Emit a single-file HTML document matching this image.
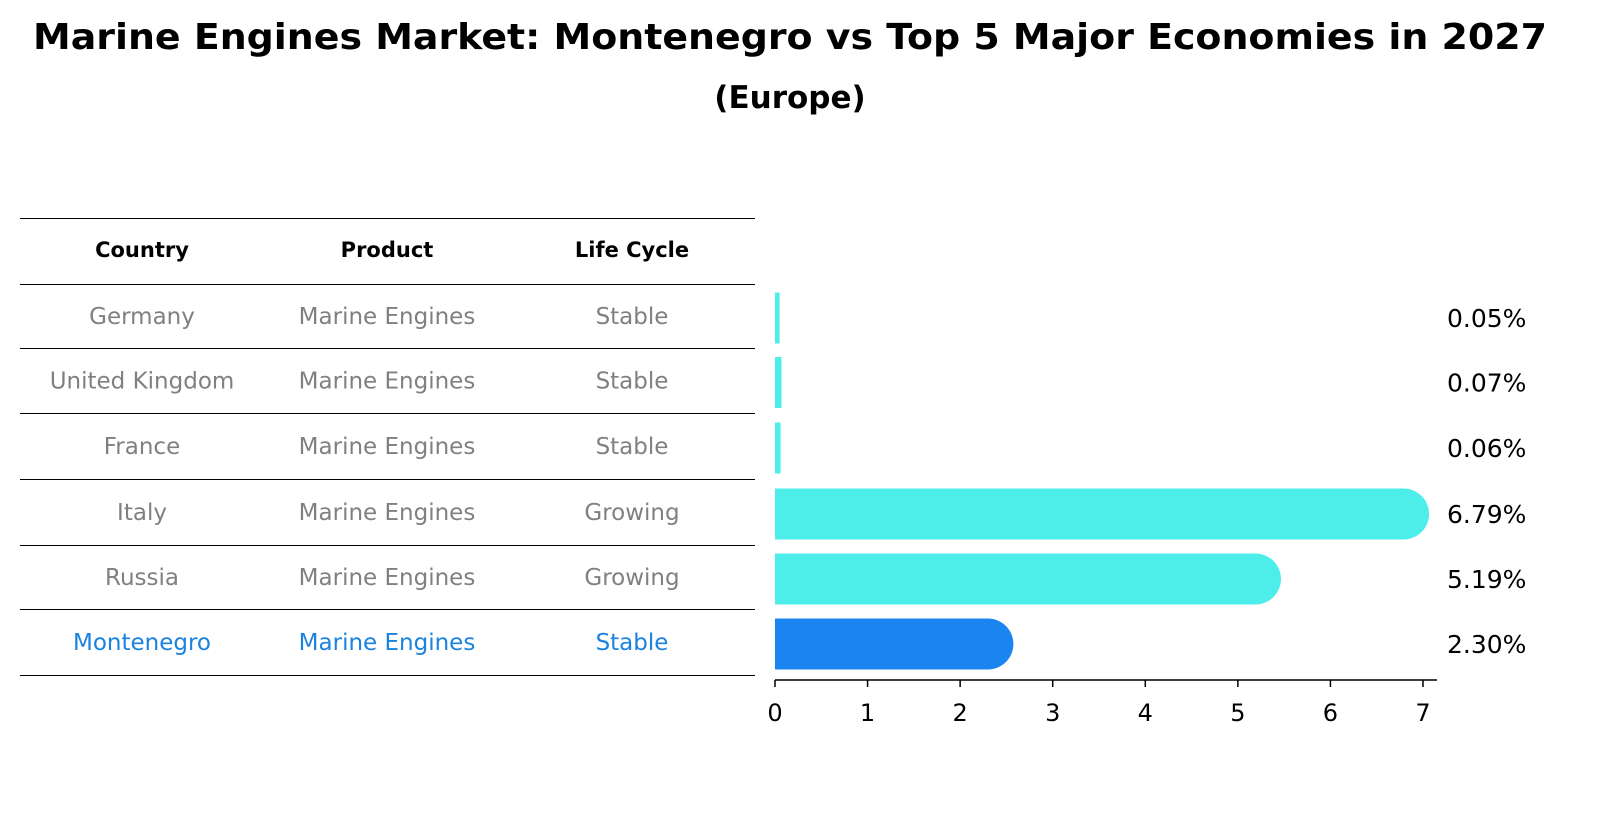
<!DOCTYPE html>
<html><head><meta charset="utf-8"><style>
body{margin:0;background:#fff;font-family:"Liberation Sans","DejaVu Sans",sans-serif}
svg text{font-family:"DejaVu Sans","Liberation Sans",sans-serif}
</style></head><body>
<svg width="1603" height="823" viewBox="0 0 1603 823" xmlns="http://www.w3.org/2000/svg">
<text x="790" y="49" text-anchor="middle" font-size="36" font-weight="bold" textLength="1514" lengthAdjust="spacingAndGlyphs">Marine Engines Market: Montenegro vs Top 5 Major Economies in 2027</text>
<text x="790" y="108" text-anchor="middle" font-size="31" font-weight="bold">(Europe)</text>
<g id="table"></g>
<g id="bars"></g>
</svg>
<script>
const countries=["Germany","United Kingdom","France","Italy","Russia","Montenegro"];
const products=["Marine Engines","Marine Engines","Marine Engines","Marine Engines","Marine Engines","Marine Engines"];
const lifeCycles=["Stable","Stable","Stable","Growing","Growing","Stable"];
const values=[0.05,0.07,0.06,6.79,5.19,2.30];
const xTicks=[0,1,2,3,4,5,6,7];
const NS="http://www.w3.org/2000/svg";
function mk(t,a,p){const e=document.createElementNS(NS,t);for(const k in a)e.setAttribute(k,a[k]);p.appendChild(e);return e;}
const tbl=document.getElementById('table'),bars=document.getElementById('bars');
const lineYs=[218,284,348,413,479,545,609,675];
const colX=[142,387,632];
lineYs.forEach(y=>{const l=mk('line',{x1:20,x2:755,y1:y+0.5,y2:y+0.5,stroke:'#000','stroke-width':1},tbl);

});
["Country","Product","Life Cycle"].forEach((h,i)=>{const t=mk('text',{x:colX[i],y:257,'text-anchor':'middle','font-size':21,'font-weight':'bold'},tbl);t.textContent=h;

});
countries.forEach((c,r)=>{const y=(lineYs[r+1]+lineYs[r+2])/2+8;const col=c==="Montenegro"?'#1a82e0':'#808080';
[c,products[r],lifeCycles[r]].forEach((v,i)=>{const t=mk('text',{x:colX[i],y:y,'text-anchor':'middle','font-size':23,fill:col},tbl);t.textContent=v;

});});
const x0=775,ppu=(1423-775)/7;
const xs=v=>x0+v*ppu;
const h=51;
values.forEach((v,r)=>{const cy=(lineYs[r+1]+lineYs[r+2])/2+2;const col=countries[r]==="Montenegro"?'#1a85f0':'#4deeea';
const w=xs(v)-x0;
const b=mk('rect',{x:x0,y:cy-h/2,width:Math.max(w,4),height:h,fill:col},bars);


if(w>h/2){const c=mk('circle',{cx:xs(v),cy:cy,r:h/2,fill:col},bars);

}
const t=mk('text',{x:1447,y:cy+9,'font-size':25},bars);t.textContent=v.toFixed(2)+'%';

});
const ax=mk('line',{x1:x0,x2:1437,y1:680,y2:680,stroke:'#000','stroke-width':1.5},bars);


xTicks.forEach(v=>{const tk=mk('line',{x1:xs(v),x2:xs(v),y1:680,y2:687,stroke:'#000','stroke-width':1.5},bars);


const t=mk('text',{x:xs(v),y:721,'text-anchor':'middle','font-size':24},bars);t.textContent=v;

});
</script>
</body></html>
